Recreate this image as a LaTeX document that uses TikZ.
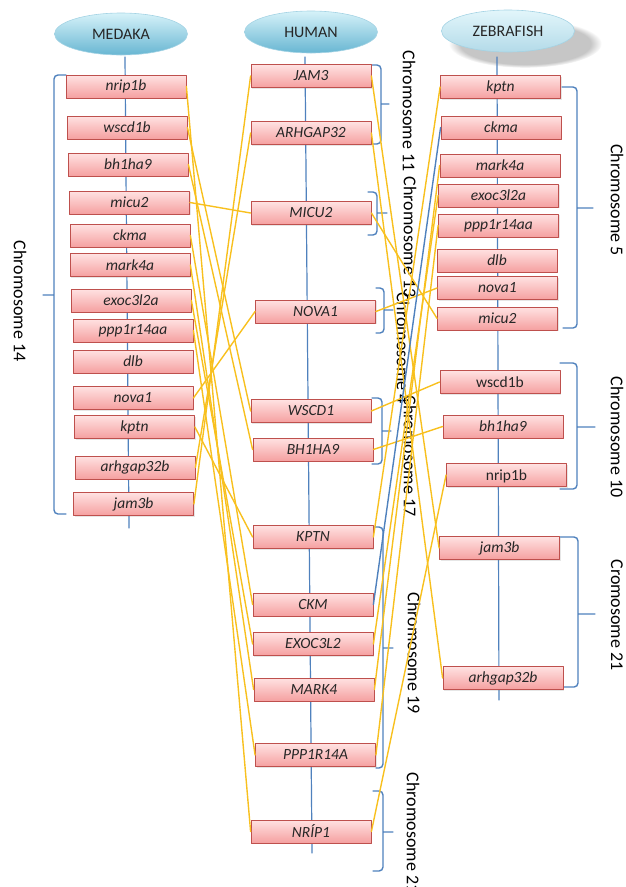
\documentclass[tikz,border=0pt]{standalone}
\usepackage{fontspec}
\setmainfont{Carlito}
\usetikzlibrary{shapes.geometric,shadows}
\definecolor{genetop}{RGB}{255,226,226}
\definecolor{genebot}{RGB}{245,160,160}
\definecolor{generim}{RGB}{190,80,77}
\definecolor{headtop}{RGB}{214,242,249}
\definecolor{headbot}{RGB}{104,182,210}
\definecolor{axisblue}{RGB}{79,129,189}
\definecolor{orthoyel}{RGB}{248,192,30}
\newcommand{\genesize}{\fontsize{15.5}{18}\selectfont}
\newcommand{\chrsize}{\fontsize{18}{21}\selectfont}

\begin{document}
\begin{tikzpicture}[x=1pt, y=-1pt, line join=round, line cap=round,
  gene/.style={draw=generim, line width=0.8pt, top color=genetop, bottom color=genebot,
    minimum width=120pt, minimum height=23pt, inner sep=0pt, font=\genesize\itshape,
    text=black!85, drop shadow={opacity=0.2, shadow xshift=1pt, shadow yshift=-1.2pt}},
  generoman/.style={gene, font=\genesize},
  species/.style={ellipse, draw=headbot!60, line width=0.6pt, top color=headtop,
    bottom color=headbot, minimum width=133pt, minimum height=42pt, inner sep=0pt,
    text=black!85, font=\fontsize{16}{18}\selectfont},
  axis/.style={axisblue, line width=1.2pt},
  brace/.style={axisblue, line width=1.4pt, rounded corners=4pt},
  chrlabel/.style={rotate=-90, font=\chrsize},
  ortho/.style={orthoyel, line width=1.4pt}]
  \useasboundingbox (0,0) rectangle (625,887);

  % species
  \node[species] (medaka) at (121,34) {MEDAKA};
  \node[species] (human) at (311,32) {HUMAN};
  \node[species, top color=headtop!70!white, bottom color=headbot!50!white,
    circular drop shadow={shadow xshift=15pt, shadow yshift=-11pt, shadow scale=1.15, opacity=0.45}]
    (zebrafish) at (508,31) {ZEBRAFISH};

  % axes
  \draw[axis] (125,57) -- (129,528);
  \draw[axis] (305,57) -- (312,853);
  \draw[axis] (497,57) -- (499,700);

  % braces
  \draw[brace] (66,75) -- (54,75) -- (54,514) -- (66,514) (54,295) -- (43,295);
  \draw[brace] (372,65) -- (381,65) -- (381,144) -- (372,144) (381,104) -- (389,104);
  \draw[brace] (368,192) -- (377,192) -- (377,235) -- (368,235) (377,213) -- (387,213);
  \draw[brace] (376,288) -- (384,288) -- (384,333) -- (376,333) (384,310) -- (393,310);
  \draw[brace] (372,398) -- (382,398) -- (382,464) -- (372,464) (382,431) -- (391,431);
  \draw[brace] (374,527) -- (383,527) -- (383,768) -- (376,768) (383,648) -- (393,648);
  \draw[brace] (373,791) -- (383,791) -- (383,871) -- (373,871) (383,832) -- (393,832);
  \draw[brace] (562,87) -- (577,87) -- (577,328) -- (563,328) (577,208) -- (593,208);
  \draw[brace] (560,363) -- (577,363) -- (577,489) -- (560,489) (577,427) -- (595,427);
  \draw[brace] (560,537) -- (578,537) -- (578,687) -- (563,687) (578,614) -- (595,614);

  % chromosome labels
  \node[chrlabel] (c14) at (20,301) {Chromosome 14};
  \node[chrlabel] (c11) at (409,111) {Chromosome 11};
  \node[chrlabel] (c13) at (410,237) {Chromosome 13};
  \node[chrlabel] (c4) at (403,348) {Chromosome 4};
  \node[chrlabel] (c17) at (410,456) {Chromosome 17};
  \node[chrlabel] (c19) at (414,653) {Chromosome 19};
  \node[chrlabel] (h21) at (413,833) {Chromosome 21};
  \node[chrlabel] (c5) at (617,200) {Chromosome 5};
  \node[chrlabel] (c10) at (617,437) {Chromosome 10};
  \node[chrlabel] (z21) at (617,615) {Cromosome 21};

  % medaka genes
  \node[gene] (m-nrip1b) at (126,86.5) {nrip1b};
  \node[gene] (m-wscd1b) at (127,127.5) {wscd1b};
  \node[gene] (m-bh1ha9) at (128,164.5) {bh1ha9};
  \node[gene] (m-micu2) at (129.5,202.5) {micu2};
  \node[gene] (m-ckma) at (130,235.5) {ckma};
  \node[gene] (m-mark4a) at (130,265) {mark4a};
  \node[gene] (m-exoc3l2a) at (131,300.5) {exoc3l2a};
  \node[gene] (m-ppp1r14aa) at (133,330.5) {ppp1r14aa};
  \node[gene] (m-dlb) at (133,361.5) {dlb};
  \node[gene] (m-nova1) at (133,398) {nova1};
  \node[gene] (m-kptn) at (134.5,427) {kptn};
  \node[gene] (m-arhgap32b) at (135,467.5) {arhgap32b};
  \node[gene] (m-jam3b) at (133.5,504) {jam3b};

  % human genes
  \node[gene] (h-JAM3) at (311,76) {JAM3};
  \node[gene] (h-ARHGAP32) at (311,133) {ARHGAP32};
  \node[gene] (h-MICU2) at (311,213) {MICU2};
  \node[gene] (h-NOVA1) at (315.5,311.5) {NOVA1};
  \node[gene] (h-WSCD1) at (311,411) {WSCD1};
  \node[gene] (h-BH1HA9) at (313,449.5) {BH1HA9};
  \node[gene] (h-KPTN) at (313,537) {KPTN};
  \node[gene] (h-CKM) at (313,604.5) {CKM};
  \node[gene] (h-EXOC3L2) at (313,644) {EXOC3L2};
  \node[gene] (h-MARK4) at (314,689.5) {MARK4};
  \node[gene] (h-PPP1R14A) at (315.5,755) {PPP1R14A};
  \node[gene] (h-NRIP1) at (311,831.5) {NRÍP1};

  % zebrafish genes
  \node[gene] (z-kptn) at (500.5,87) {kptn};
  \node[gene] (z-ckma) at (501,127.5) {ckma};
  \node[gene] (z-mark4a) at (500,165.5) {mark4a};
  \node[gene] (z-exoc3l2a) at (498.5,195.5) {exoc3l2a};
  \node[gene] (z-ppp1r14aa) at (498.5,225.5) {ppp1r14aa};
  \node[gene] (z-dlb) at (497,260.5) {dlb};
  \node[gene] (z-nova1) at (497.5,288) {nova1};
  \node[gene] (z-micu2) at (497.5,318.5) {micu2};
  \node[generoman] (z-wscd1b) at (500,382) {wscd1b};
  \node[gene] (z-bh1ha9) at (503,426.5) {bh1ha9};
  \node[generoman, text depth=-3pt] (z-nrip1b) at (506.5,475) {nrip1b};
  \node[gene] (z-jam3b) at (499.5,548) {jam3b};
  \node[gene] (z-arhgap32b) at (503,678) {arhgap32b};

  % medaka - human
  \draw[ortho] (m-nrip1b.east) -- (h-NRIP1.west);
  \draw[ortho] (m-wscd1b.east) -- (h-WSCD1.west);
  \draw[ortho] (m-bh1ha9.east) -- (h-BH1HA9.west);
  \draw[ortho] (m-micu2.east) -- (h-MICU2.west);
  \draw[ortho] (m-ckma.east) -- (h-CKM.west);
  \draw[ortho] (m-mark4a.east) -- (h-MARK4.west);
  \draw[ortho] (m-exoc3l2a.east) -- (h-EXOC3L2.west);
  \draw[ortho] (m-ppp1r14aa.east) -- (h-PPP1R14A.west);
  \draw[ortho] (m-nova1.east) -- (h-NOVA1.west);
  \draw[ortho] (m-kptn.east) -- (h-KPTN.west);
  \draw[ortho] (m-arhgap32b.east) -- (h-ARHGAP32.west);
  \draw[ortho] (m-jam3b.east) -- (h-JAM3.west);

  % human - zebrafish
  \draw[ortho] (h-JAM3.east) -- (z-jam3b.west);
  \draw[ortho] (h-ARHGAP32.east) -- (z-arhgap32b.west);
  \draw[ortho] (h-MICU2.east) -- (z-micu2.west);
  \draw[ortho] (h-NOVA1.east) -- (z-nova1.west);
  \draw[ortho] (h-WSCD1.east) -- (z-wscd1b.west);
  \draw[ortho] (h-BH1HA9.east) -- (z-bh1ha9.west);
  \draw[ortho] (h-KPTN.east) -- (z-kptn.west);
  \draw[ortho, axisblue] (h-CKM.east) -- (z-ckma.west);
  \draw[ortho] (h-EXOC3L2.east) -- (z-exoc3l2a.west);
  \draw[ortho] (h-MARK4.east) -- (z-mark4a.west);
  \draw[ortho] (h-PPP1R14A.east) -- (z-ppp1r14aa.west);
  \draw[ortho] (h-NRIP1.east) -- (z-nrip1b.west);
\end{tikzpicture}
\end{document}
